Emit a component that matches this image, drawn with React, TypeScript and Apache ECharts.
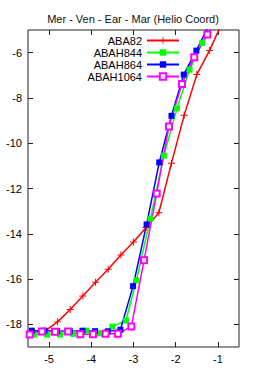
import React, { useEffect, useRef } from 'react';
import * as echarts from 'echarts';

const chartTitle = 'Mer - Ven - Ear - Mar (Helio Coord)';
const seriesNames = ['ABA82', 'ABAH844', 'ABAH864', 'ABAH1064'];
const seriesColors = ['#ff0000', '#00ff00', '#0000ff', '#ff00ff'];

const aba82X = [-5.4, -5.1, -4.8, -4.5, -4.2, -3.9, -3.6, -3.3, -3.0, -2.7, -2.4, -2.1, -1.8, -1.5, -1.2, -0.9];
const aba82Y = [-18.3, -18.3, -17.89, -17.34, -16.75, -16.14, -15.57, -14.94, -14.36, -13.72, -13.07, -10.88, -8.77, -6.97, -5.91, -4.68];

const abah844X = [-5.36, -5.05, -4.74, -4.43, -4.12, -3.81, -3.5, -3.18, -2.93, -2.6, -2.28, -1.97, -1.67, -1.37, -1.06];
const abah844Y = [-18.45, -18.45, -18.45, -18.42, -18.28, -18.4, -18.1, -17.83, -16.05, -13.33, -10.55, -8.46, -6.75, -5.57, -4.6];

const abah864X = [-5.41, -5.11, -4.81, -4.51, -4.21, -3.91, -3.61, -3.31, -3.01, -2.69, -2.39, -2.1, -1.81, -1.51, -1.2];
const abah864Y = [-18.28, -18.28, -18.29, -18.3, -18.28, -18.3, -18.31, -18.24, -16.31, -13.59, -10.85, -8.79, -6.97, -5.91, -4.73];

const abah1064X = [-5.46, -5.17, -4.86, -4.55, -4.26, -3.96, -3.66, -3.37, -3.05, -2.75, -2.45, -2.16, -1.85, -1.56, -1.25, -0.95];
const abah1064Y = [-18.45, -18.31, -18.33, -18.31, -18.44, -18.44, -18.42, -18.42, -18.09, -15.17, -12.22, -9.26, -7.38, -6.2, -5.2, -4.3];

const xTicks = [-5, -4, -3, -2, -1];
const yTicks = [-18, -16, -14, -12, -10, -8, -6];
const xRange = [-5.5, -0.5];
const yRange = [-19, -5];

const plusPath = 'path://M4.3,0H5.7V4.3H10V5.7H5.7V10H4.3V5.7H0V4.3H4.3Z';

const zip = (xs: number[], ys: number[]) => xs.map((x, i) => [x, ys[i]]);

export default function App() {
  const ref = useRef<HTMLDivElement>(null);
  useEffect(() => {
    if (!ref.current) return;
    const chart = echarts.init(ref.current, undefined, { renderer: 'svg' });
    const font = 'Liberation Sans, Arial, sans-serif';
    const dataSets = [
      zip(aba82X, aba82Y),
      zip(abah844X, abah844Y),
      zip(abah864X, abah864Y),
      zip(abah1064X, abah1064Y),
    ];
    const symbols = [plusPath, 'rect', 'rect', 'emptyRect'];
    const symbolSizes = [7, 6, 6, 6];
    const tickStyle = { inside: true, length: 5, lineStyle: { color: '#222', width: 1 } };
    chart.setOption({
      animation: false,
      backgroundColor: '#fff',
      title: {
        text: chartTitle,
        left: 'center',
        top: 8,
        textStyle: { fontFamily: font, fontSize: 11, fontWeight: 'normal', color: '#111' },
      },
      grid: {
        left: 28, right: 27, top: 30, bottom: 22,
        show: true, borderColor: '#222', borderWidth: 1, backgroundColor: 'transparent',
      },
      legend: {
        data: seriesNames,
        orient: 'vertical',
        align: 'right',
        right: 86,
        top: 35,
        padding: 0,
        itemWidth: 32,
        itemHeight: 8,
        itemGap: 1,
        textStyle: { fontFamily: font, fontSize: 11, color: '#000', lineHeight: 11 },
      },
      xAxis: [
        {
          type: 'value', min: xRange[0], max: xRange[1], position: 'bottom',
          axisLine: { show: false }, splitLine: { show: false },
          axisTick: { ...tickStyle, customValues: xTicks },
          axisLabel: { customValues: xTicks, fontFamily: font, fontSize: 11, color: '#000', margin: 6 },
        },
        {
          type: 'value', min: xRange[0], max: xRange[1], position: 'top',
          axisLine: { show: false }, splitLine: { show: false },
          axisTick: { ...tickStyle, customValues: xTicks },
          axisLabel: { show: false },
        },
      ],
      yAxis: [
        {
          type: 'value', min: yRange[0], max: yRange[1], position: 'left',
          axisLine: { show: false }, splitLine: { show: false },
          axisTick: { ...tickStyle, customValues: yTicks },
          axisLabel: { customValues: yTicks, fontFamily: font, fontSize: 11, color: '#000', margin: 6 },
        },
        {
          type: 'value', min: yRange[0], max: yRange[1], position: 'right',
          axisLine: { show: false }, splitLine: { show: false },
          axisTick: { ...tickStyle, customValues: yTicks },
          axisLabel: { show: false },
        },
      ],
      series: seriesNames.map((name, i) => ({
        name,
        type: 'line',
        xAxisIndex: 0,
        yAxisIndex: 0,
        data: dataSets[i],
        clip: true,
        symbol: symbols[i],
        symbolSize: symbolSizes[i],
        showAllSymbol: true,
        color: seriesColors[i],
        lineStyle: { color: seriesColors[i], width: 1.5 },
        itemStyle: i === 3
          ? { color: seriesColors[i], borderColor: seriesColors[i], borderWidth: 1.3 }
          : { color: seriesColors[i], borderWidth: 0 },
      })),
    });
    return () => chart.dispose();
  }, []);
  return <div ref={ref} style={{ position: 'absolute', left: 0, top: 0, width: 266, height: 369 }} />;
}
